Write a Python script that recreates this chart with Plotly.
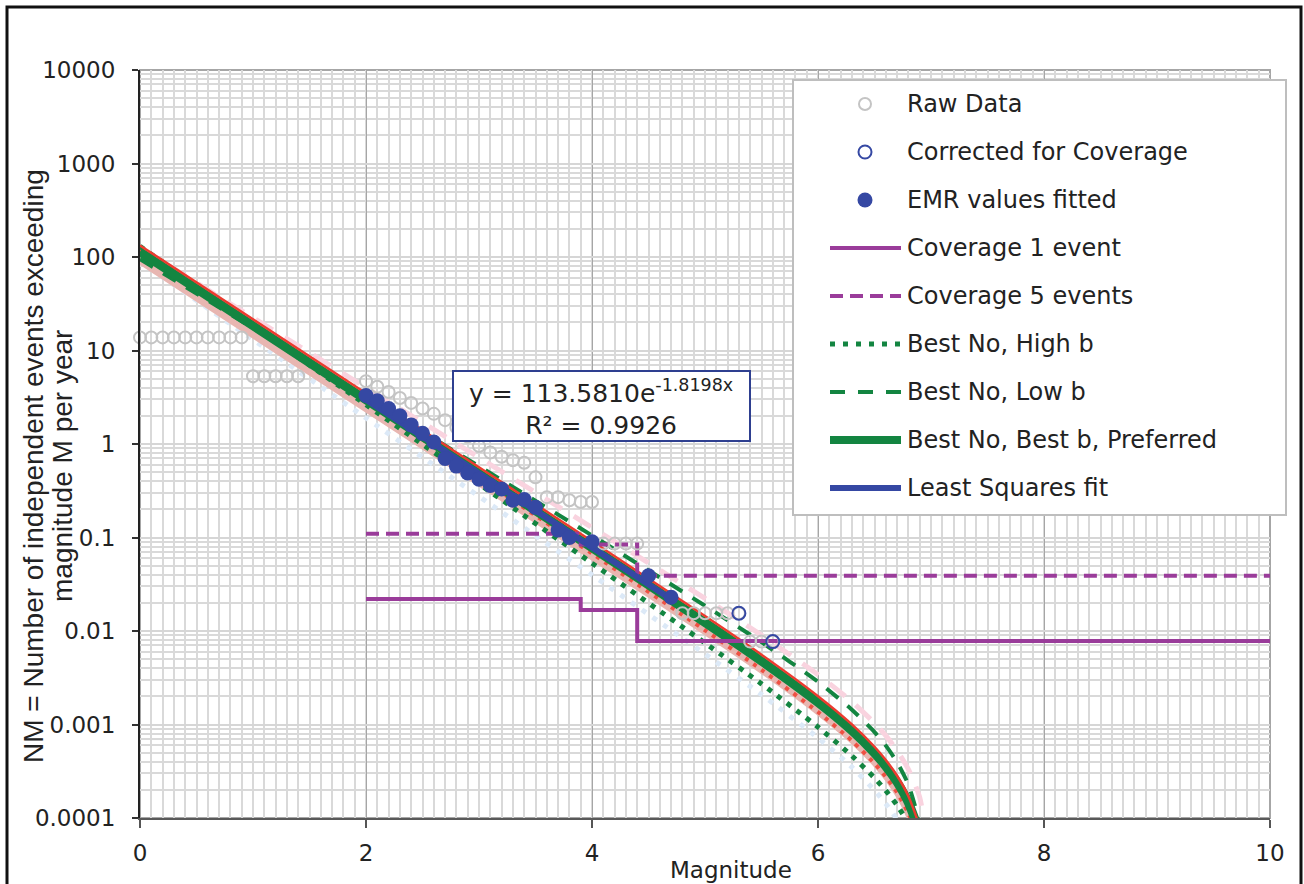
import math
import plotly.graph_objects as go

# ---------------- data ----------------
# Observed exceedance rates (raw catalogue)
raw_m = [0.0, 0.1, 0.2, 0.3, 0.4, 0.5, 0.6, 0.7, 0.8, 0.9,
         1.0, 1.1, 1.2, 1.3, 1.4,
         2.0, 2.1, 2.2, 2.3, 2.4, 2.5, 2.6, 2.7, 2.8, 2.9, 3.0,
         3.1, 3.2, 3.3, 3.4, 3.5, 3.6, 3.7, 3.8, 3.9, 4.0,
         4.1, 4.2, 4.3, 4.4,
         4.8, 4.9, 5.0, 5.1, 5.2, 5.3, 5.4, 5.5, 5.6]
raw_n = [13.8, 13.8, 13.8, 13.8, 13.8, 13.8, 13.8, 13.8, 13.8, 13.8,
         5.3, 5.3, 5.3, 5.3, 5.3,
         4.7, 4.1, 3.6, 3.1, 2.75, 2.4, 2.1, 1.8, 1.5, 1.2, 0.95,
         0.81, 0.73, 0.67, 0.63, 0.44, 0.27, 0.27, 0.25, 0.24, 0.24,
         0.086, 0.086, 0.086, 0.086,
         0.0155, 0.0155, 0.0155, 0.0155, 0.0155, 0.0155, 0.0077, 0.0077, 0.0077]

# Rates corrected for catalogue coverage
corr_m = [5.3, 5.6]
corr_n = [0.0155, 0.0077]

# Equivalent magnitude-rate values used in the fit
emr_m = [2.0, 2.1, 2.2, 2.3, 2.4, 2.5, 2.6, 2.7, 2.8, 2.9, 3.0,
         3.1, 3.2, 3.3, 3.4, 3.5, 3.7, 3.8, 4.0, 4.5, 4.7]
emr_n = [3.3, 2.9, 2.4, 2.0, 1.6, 1.3, 1.05, 0.70, 0.58, 0.49, 0.42,
         0.36, 0.33, 0.25, 0.255, 0.21, 0.12, 0.10, 0.09, 0.039, 0.023]

# Coverage thresholds (step functions)
cov_m = [2.0, 3.9, 4.4, 10.0]
cov_1 = [0.022, 0.0168, 0.0078, 0.0078]
cov_5 = [0.11, 0.084, 0.039, 0.039]

# Recurrence curves sampled on a common magnitude grid
curve_m = [0.0, 2.0, 4.0, 5.0, 5.5, 6.0, 6.3, 6.5, 6.6, 6.7, 6.8, 6.9, 7.0]
best_pref = [113.6, 2.981, 0.0779, 0.01235, 0.00477, 0.00172, 0.000857, 0.000494,
             0.000356, 0.000242, 0.000146, 0.000067, 0.00001]
best_high_b = [130.0, 2.631, 0.0531, 0.00744, 0.00272, 0.000939, 0.000462, 0.000268,
               0.000196, 0.000137, 0.000087, 0.000047, 0.00001]
best_low_b = [95.0, 3.169, 0.1051, 0.01865, 0.00759, 0.00286, 0.00144, 0.00083,
              0.000594, 0.000395, 0.000227, 0.000086, 0.00001]
alt_upper = [132.9, 3.49, 0.0911, 0.01445, 0.00558, 0.00201, 0.001003, 0.000578,
             0.000417, 0.000283, 0.000171, 0.0000784, 0.00001]
alt_lower = [95.4, 2.50, 0.0654, 0.01037, 0.00401, 0.001445, 0.00072, 0.000415,
             0.000299, 0.000203, 0.000123, 0.0000563, 0.00001]
alt_low_b = [125.0, 4.008, 0.1278, 0.0223, 0.00903, 0.00341, 0.00175, 0.001035,
             0.000759, 0.000526, 0.000331, 0.000166, 0.00003]
alt_high_b = [120.0, 2.850, 0.0674, 0.01019, 0.00385, 0.001359, 0.00067, 0.000383,
              0.000276, 0.000187, 0.000112, 0.000051, 0.00001]
alt_high_b2 = [90.0, 1.896, 0.0398, 0.00568, 0.00209, 0.000719, 0.00035, 0.000198,
               0.000142, 0.000096, 0.000058, 0.00003, 0.00001]

# Least-squares exponential fit  N = A * exp(B * M)
FIT_A = 113.5810
FIT_B = -1.8198
FIT_R2 = 0.9926
fit_m = [2.0, 4.7]

y_tickvals = [1e-4, 1e-3, 1e-2, 1e-1, 1, 10, 100, 1000, 10000]
y_ticktext = ["0.0001", "0.001", "0.01", "0.1", "1", "10", "100", "1000", "10000"]
x_tickvals = [0, 2, 4, 6, 8, 10]

# ---------------- styling ----------------
GREEN = "#138541"
BLUE = "#3548A3"
PURPLE = "#9A3C9A"
GREY = "#C4C4C4"
TXT = "#222222"
FONT = "DejaVu Sans"

W, H = 1304, 884
L, R, T, B = 140, 1270, 70, 818  # plot area in page pixels


def px_x(px):
    return (px - L) / (R - L)


def px_y(py):
    return (B - py) / (B - T)


fig = go.Figure()


def curve(y, color, width, dash="solid"):
    fig.add_trace(go.Scatter(
        x=curve_m, y=y, mode="lines", showlegend=False, hoverinfo="skip",
        line=dict(color=color, width=width, dash=dash, shape="spline", smoothing=0.6)))


# pale alternative scenario curves, then the labelled ones
curve(alt_high_b2, "#DCE9F7", 5, "5px,8px")
curve(alt_low_b, "#F9D3DF", 5, "20px,14px")
curve(alt_lower, "#E8B6B1", 10)
curve(alt_high_b, "#EE5143", 4, "4px,6px")
curve(best_high_b, GREEN, 5, "5px,7px")
curve(best_low_b, GREEN, 4, "15px,12px")
curve(best_pref, GREEN, 9)
curve(alt_upper, "#EC3B2F", 2.5)

# coverage steps
fig.add_trace(go.Scatter(x=cov_m, y=cov_1, mode="lines", showlegend=False,
                         line=dict(color=PURPLE, width=4, shape="hv")))
fig.add_trace(go.Scatter(x=cov_m, y=cov_5, mode="lines", showlegend=False,
                         line=dict(color=PURPLE, width=4, shape="hv", dash="13px,7px")))

# observations
fig.add_trace(go.Scatter(x=raw_m, y=raw_n, mode="markers", showlegend=False, cliponaxis=False,
                         marker=dict(symbol="circle-open", size=12, color=GREY,
                                     line=dict(width=2, color=GREY))))
fig.add_trace(go.Scatter(x=corr_m, y=corr_n, mode="markers", showlegend=False, cliponaxis=False,
                         marker=dict(symbol="circle-open", size=13, color=BLUE,
                                     line=dict(width=2, color=BLUE))))

# least-squares line from the fitted coefficients
fit_n = [FIT_A * math.exp(FIT_B * m) for m in fit_m]
fig.add_trace(go.Scatter(x=fit_m, y=fit_n, mode="lines", showlegend=False,
                         line=dict(color=BLUE, width=6)))
fig.add_trace(go.Scatter(x=emr_m, y=emr_n, mode="markers", showlegend=False,
                         marker=dict(symbol="circle", size=15, color=BLUE)))

shapes = []
annotations = []

# plot-area frame (top / right edges)
shapes.append(dict(type="rect", xref="paper", yref="paper", x0=0, x1=1, y0=0, y1=1,
                   line=dict(color="#A6A6A6", width=2), layer="between"))
# outer chart frame
shapes.append(dict(type="rect", xref="paper", yref="paper",
                   x0=px_x(7), x1=px_x(1301), y0=px_y(900), y1=px_y(7),
                   line=dict(color="#111111", width=3), layer="above"))

# legend box
shapes.append(dict(type="rect", xref="paper", yref="paper",
                   x0=px_x(793), x1=px_x(1286), y0=px_y(515), y1=px_y(80),
                   line=dict(color="#BEBEBE", width=2), fillcolor="white", layer="above"))

legend_rows = [
    ("Raw Data", "marker", dict(fill=None, color=GREY, size=12)),
    ("Corrected for Coverage", "marker", dict(fill=None, color=BLUE, size=13)),
    ("EMR values fitted", "marker", dict(fill=BLUE, color=BLUE, size=15)),
    ("Coverage 1 event", "line", dict(color=PURPLE, width=4, dash="solid")),
    ("Coverage 5 events", "line", dict(color=PURPLE, width=4, dash="13px,7px")),
    ("Best No, High b", "line", dict(color=GREEN, width=5, dash="5px,8px")),
    ("Best No, Low b", "line", dict(color=GREEN, width=4, dash="15px,13px")),
    ("Best No, Best b, Preferred", "line", dict(color=GREEN, width=8, dash="solid")),
    ("Least Squares fit", "line", dict(color=BLUE, width=6, dash="solid")),
]
row_y0, row_dy = 104, 48
for i, (label, kind, st) in enumerate(legend_rows):
    yc = row_y0 + i * row_dy
    if kind == "marker":
        r = st["size"] / 2
        shapes.append(dict(type="circle", xref="paper", yref="paper",
                           xsizemode="pixel", ysizemode="pixel",
                           xanchor=px_x(865), yanchor=px_y(yc),
                           x0=-r, x1=r, y0=-r, y1=r,
                           line=dict(color=st["color"], width=0 if st["fill"] else 2),
                           fillcolor=st["fill"] if st["fill"] else "rgba(0,0,0,0)",
                           layer="above"))
    else:
        shapes.append(dict(type="line", xref="paper", yref="paper",
                           x0=px_x(830), x1=px_x(901), y0=px_y(yc), y1=px_y(yc),
                           line=dict(color=st["color"], width=st["width"], dash=st["dash"]),
                           layer="above"))
    annotations.append(dict(xref="paper", yref="paper", x=px_x(905), y=px_y(yc),
                            xanchor="left", yanchor="middle", showarrow=False,
                            text=label, font=dict(family=FONT, size=24, color=TXT)))

# fit equation box
shapes.append(dict(type="rect", xref="paper", yref="paper",
                   x0=px_x(453), x1=px_x(750), y0=px_y(441), y1=px_y(371),
                   line=dict(color="#2E3F90", width=2), fillcolor="white", layer="above"))
annotations.append(dict(
    xref="paper", yref="paper", x=px_x(601), y=px_y(407), xanchor="center", yanchor="middle",
    showarrow=False, align="center",
    text=f"y = {FIT_A:.4f}e<sup>{FIT_B:.4f}x</sup><br>R² = {FIT_R2:.4f}",
    font=dict(family=FONT, size=25, color=TXT)))

# axis titles
annotations.append(dict(xref="paper", yref="paper", x=px_x(33), y=px_y(466),
                        xanchor="center", yanchor="middle", textangle=-90, showarrow=False,
                        text="NM = Number of independent events exceeding",
                        font=dict(family="Liberation Sans", size=28, color=TXT)))
annotations.append(dict(xref="paper", yref="paper", x=px_x(62), y=px_y(466),
                        xanchor="center", yanchor="middle", textangle=-90, showarrow=False,
                        text="magnitude M per year",
                        font=dict(family="Liberation Sans", size=28, color=TXT)))
annotations.append(dict(xref="paper", yref="paper", x=px_x(731), y=px_y(870),
                        xanchor="center", yanchor="middle", showarrow=False,
                        text="Magnitude", font=dict(family=FONT, size=23, color=TXT)))

fig.update_layout(
    width=W, height=H, autosize=False,
    margin=dict(l=L, r=W - R, t=T, b=H - B),
    paper_bgcolor="white", plot_bgcolor="white",
    showlegend=False,
    shapes=shapes, annotations=annotations,
    xaxis=dict(range=[0, 10], tickvals=x_tickvals, ticks="outside", ticklen=8, tickwidth=1.5,
               tickcolor="#555555", showline=True, linecolor="#595959", linewidth=2,
               showgrid=True, gridcolor="#A6A6A6", gridwidth=1, zeroline=False,
               minor=dict(dtick=0.1, showgrid=True, gridcolor="#D9D9D9", gridwidth=2, ticks=""),
               tickfont=dict(family=FONT, size=23, color=TXT), ticklabelstandoff=5),
    yaxis=dict(type="log", range=[-4, 4], tickvals=y_tickvals, ticktext=y_ticktext,
               ticks="outside", ticklen=6, tickwidth=1.5, tickcolor="#333333",
               showline=True, linecolor="#222222", linewidth=2,
               showgrid=True, gridcolor="#D6D6D6", gridwidth=2, zeroline=False,
               minor=dict(dtick="D1", showgrid=True, gridcolor="#D9D9D9", gridwidth=2, ticks=""),
               tickfont=dict(family=FONT, size=23, color=TXT), ticklabelstandoff=12),
)

fig.write_html("out.html")
